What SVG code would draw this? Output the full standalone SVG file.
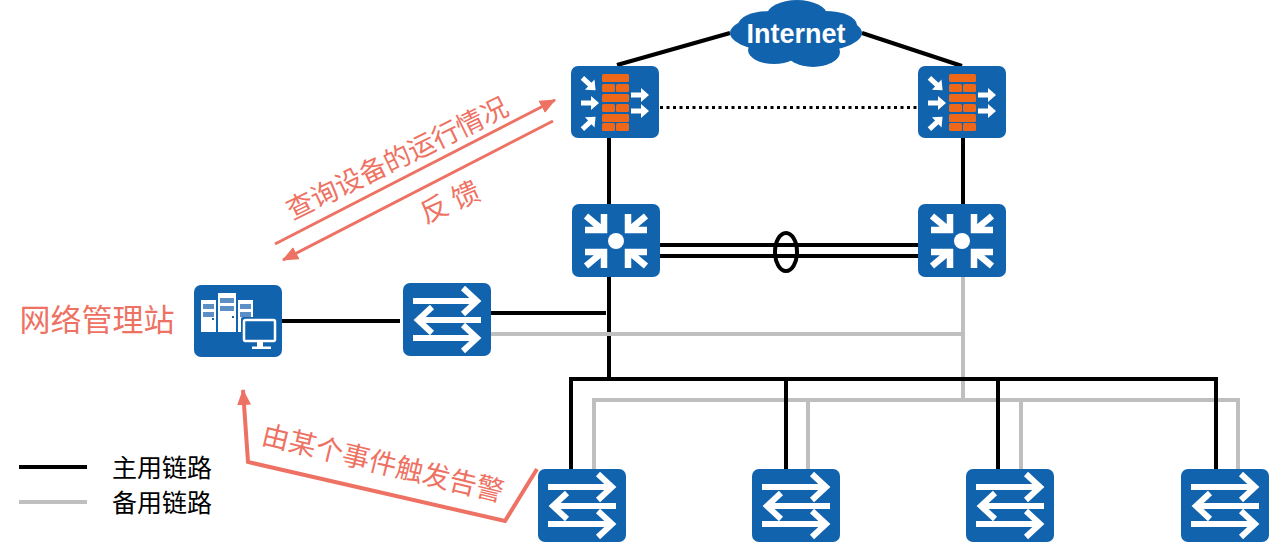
<svg xmlns="http://www.w3.org/2000/svg" xmlns:xlink="http://www.w3.org/1999/xlink" width="1270" height="542" viewBox="0 0 1270 542">
<style>
.blue{fill:#1263ad}
.k{stroke:#000;stroke-width:4;fill:none}
.g{stroke:#bfbfbf;stroke-width:4;fill:none}
.r{stroke:#ee7263;fill:none}
.wl{stroke:#fff;stroke-width:6;fill:none}
.o{fill:#ef6718}
.w{fill:#fff}
.rt{fill:#ee7263;font-family:"Noto Sans CJK SC","Liberation Sans",sans-serif;font-weight:400;text-anchor:middle}
.lg{fill:#000;font-family:"Noto Sans CJK SC","Liberation Sans",sans-serif;font-weight:400;font-size:25px}
</style>
<defs>
<marker id="ah" markerUnits="userSpaceOnUse" markerWidth="18" markerHeight="16" refX="15" refY="7" orient="auto" viewBox="0 0 18 14"><path d="M0,0L16,7L0,14Z" fill="#ee7263"/></marker>
<path id="fa" d="M-9,-2.500H1V-7L9,0L1,7V2.500H-9Z" fill="#fff"/>
<g id="switch">
<rect width="88" height="73" rx="7" class="blue"/>
<path class="wl" d="M10,18H74M60,5L74,18L60,31M78,37H15M29,24L15,37L29,50M10,55H74M60,42L74,55L60,68"/>
</g>
<g id="firewall">
<rect width="88" height="72" rx="7" class="blue"/>
<g class="o">
<rect x="31" y="8" width="27" height="8" rx="1.500"/>
<rect x="31" y="18" width="13" height="8" rx="1.500"/><rect x="45" y="18" width="13" height="8" rx="1.500"/>
<rect x="31" y="28" width="27" height="8" rx="1.500"/>
<rect x="31" y="38" width="13" height="8" rx="1.500"/><rect x="45" y="38" width="13" height="8" rx="1.500"/>
<rect x="31" y="48" width="27" height="8" rx="1.500"/>
<rect x="31" y="57" width="13" height="8" rx="1.500"/><rect x="45" y="57" width="13" height="8" rx="1.500"/>
</g>
<use xlink:href="#fa" href="#fa" transform="translate(18,18) rotate(43)"/>
<use xlink:href="#fa" href="#fa" transform="translate(19,37)"/>
<use xlink:href="#fa" href="#fa" transform="translate(18,57) rotate(-43)"/>
<use xlink:href="#fa" href="#fa" transform="translate(69,29)"/>
<use xlink:href="#fa" href="#fa" transform="translate(69,45)"/>
</g>
<g id="router">
<rect width="88" height="73" rx="7" class="blue"/>
<circle cx="44" cy="37" r="8" class="w"/>
<path class="wl" style="stroke-width:6.500" d="M14,12L32,27M32,10V26H13M74,12L56,27M56,10V26H75M14,62L32,47M32,64V48H13M74,62L56,47M56,64V48H75"/>
</g>
</defs>

<g id="connectors">
<path class="k" d="M617,65L730,33M862,33L962,66"/>
<path d="M660,107.500H918" stroke="#000" stroke-width="3" stroke-dasharray="3 3.500" fill="none"/>
<path class="k" d="M609,138V204M963,138V204M660,245H918M660,256H918M609,277V379M491,313H606M282,321H400"/>
<ellipse cx="786" cy="252" rx="11" ry="19" fill="none" stroke="#000" stroke-width="4"/>
<path class="g" d="M963,277V400M491,334H963M594,469V400H1238V469M808,400V469M1021,400V469"/>
<path class="k" d="M571,469V379H1216V469M786,379V469M998,379V469"/>
<path class="k" d="M19,467H87"/>
<path class="g" d="M19,502H87"/>
<path class="r" stroke-width="3" d="M275,244L555,100" marker-end="url(#ah)"/>
<path class="r" stroke-width="3" d="M553,121L283,260" marker-end="url(#ah)"/>
<path class="r" stroke-width="4" d="M537,469L505,521L248,462L243,390" marker-end="url(#ah)"/>
</g>

<g id="internet">
<g class="blue">
<ellipse cx="796" cy="33" rx="66" ry="21"/>
<ellipse cx="797" cy="15" rx="30" ry="15"/>
<ellipse cx="770" cy="25" rx="32" ry="14"/>
<ellipse cx="825" cy="25" rx="32" ry="14"/>
<ellipse cx="774" cy="50" rx="26" ry="14"/>
<ellipse cx="813" cy="52" rx="27" ry="15"/>
</g>
<text x="796" y="43" text-anchor="middle" fill="#fff" font-family="'Liberation Sans',sans-serif" font-weight="700" font-size="27">Internet</text>
</g>
<g id="fw1"><use xlink:href="#firewall" href="#firewall" x="571" y="66"/></g>
<g id="fw2"><use xlink:href="#firewall" href="#firewall" x="918" y="66"/></g>
<g id="core1"><use xlink:href="#router" href="#router" x="572" y="204"/></g>
<g id="core2"><use xlink:href="#router" href="#router" x="918" y="204"/></g>
<g id="sw0"><use xlink:href="#switch" href="#switch" x="403" y="283"/></g>
<g id="sw1"><use xlink:href="#switch" href="#switch" x="538" y="469"/></g>
<g id="sw2"><use xlink:href="#switch" href="#switch" x="752" y="469"/></g>
<g id="sw3"><use xlink:href="#switch" href="#switch" x="966" y="469"/></g>
<g id="sw4"><use xlink:href="#switch" href="#switch" x="1181" y="469"/></g>
<g id="nms">
<rect x="194" y="285" width="88" height="72" rx="7" class="blue"/>
<g class="w">
<rect x="201" y="300" width="15" height="32"/>
<rect x="218" y="293" width="18" height="39"/>
<rect x="238" y="300" width="15" height="32"/>
</g>
<g fill="#5b8fc6">
<rect x="203" y="304" width="11" height="5"/><rect x="203" y="312" width="11" height="5"/>
<rect x="220" y="298" width="14" height="5"/><rect x="220" y="306" width="14" height="5"/>
<rect x="240" y="304" width="11" height="5"/><rect x="240" y="312" width="11" height="5"/>
</g>
<g class="blue">
<rect x="212" y="318" width="2" height="2"/><rect x="232" y="316" width="2" height="2"/>
<rect x="241" y="317" width="37" height="26" rx="2"/>
</g>
<rect x="244" y="320" width="31" height="21" rx="1.500" fill="#1263ad" stroke="#fff" stroke-width="2.500"/>
<path class="w" d="M257,342h6v4.500h8v2.500h-19v-2.500h5Z"/>
</g>

<g id="labels">
<text class="rt" font-size="31" x="97" y="331">网络管理站</text>
<text class="rt" font-size="27" transform="translate(397,158) rotate(-26)" y="10">查询设备的运行情况</text>
<text class="rt" font-size="28" transform="translate(450,202) rotate(-24)" y="10">反 馈</text>
<text class="rt" font-size="27.500" transform="translate(383,463) rotate(13.600)" y="10">由某个事件触发告警</text>
<text class="lg" x="112" y="477">主用链路</text>
<text class="lg" x="112" y="512">备用链路</text>
</g>
</svg>
